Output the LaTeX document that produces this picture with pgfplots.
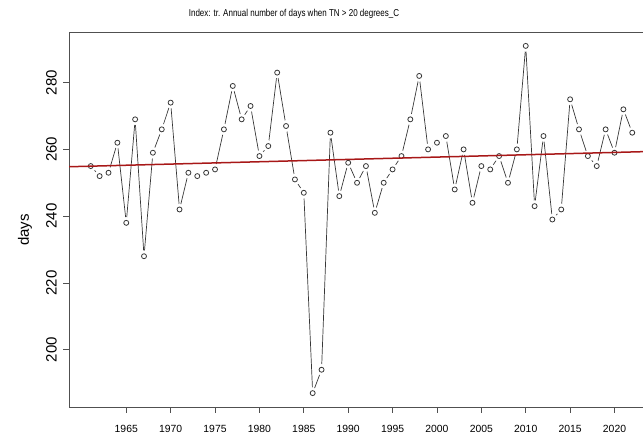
\documentclass[border=0pt]{standalone}
\usepackage{fontspec}
\setmainfont{Liberation Sans}
\usepackage{pgfplots}
\pgfplotsset{compat=1.18}
\usepackage{pgfplotstable}
\definecolor{trendred}{RGB}{168,24,24}
\definecolor{framegray}{RGB}{80,80,80}
\definecolor{pointgray}{RGB}{55,55,55}

% Annual count of tropical nights (TN > 20 C)
\pgfplotstableread{
year days
1961 255
1962 252
1963 253
1964 262
1965 238
1966 269
1967 228
1968 259
1969 266
1970 274
1971 242
1972 253
1973 252
1974 253
1975 254
1976 266
1977 279
1978 269
1979 273
1980 258
1981 261
1982 283
1983 267
1984 251
1985 247
1986 187
1987 194
1988 265
1989 246
1990 256
1991 250
1992 255
1993 241
1994 250
1995 254
1996 258
1997 269
1998 282
1999 260
2000 262
2001 264
2002 248
2003 260
2004 244
2005 255
2006 254
2007 258
2008 250
2009 260
2010 291
2011 243
2012 264
2013 239
2014 242
2015 275
2016 266
2017 258
2018 255
2019 266
2020 259
2021 272
2022 265
}\trdata

\begin{document}
\begin{tikzpicture}[x=1pt,y=1pt]
\begin{axis}[
  at={(69pt,35pt)}, anchor=south west,
  scale only axis, width=585pt, height=375pt,
  xmin=1958.55, xmax=2024.45, ymin=182.84, ymax=295.16,
  axis line style={framegray, line width=0.8pt},
  tick style={framegray, line width=0.8pt},
  tick align=outside, tick pos=left,
  major tick length=6pt,
  xtick={1965,1970,...,2020},
  ytick={200,220,...,280},
  /pgf/number format/assume math mode=true,
  /pgf/number format/1000 sep={},
  xticklabel style={font=\fontsize{10.4}{12}\selectfont, anchor=north, inner sep=0pt, yshift=-12pt},
  yticklabel={\rotatebox{90}{\pgfmathprintnumber[assume math mode=true]{\tick}}},
  yticklabel style={font=\fontsize{15}{17}\selectfont, anchor=east, inner sep=0pt, xshift=-6pt},
  clip=true, clip marker paths=true,
]
  % connecting line
  \addplot[pointgray, line width=0.7pt, no markers] table[x=year,y=days] {\trdata};
  % gaps around the points (type "b" look)
  \addplot[white, only marks, mark=*, mark size=5.6pt] table[x=year,y=days] {\trdata};
  % open circles
  \addplot[pointgray, only marks, mark=o, mark size=2.5pt, mark options={line width=0.8pt}] table[x=year,y=days] {\trdata};
  % linear trend
  \addplot[trendred, line width=1.5pt, no markers] coordinates {(1958.55,254.8) (2024.45,259.4)};
\end{axis}
\node[font=\fontsize{10}{12}\selectfont, xscale=0.8] at (294,428) {Index: tr. Annual number of days when TN > 20 degrees\_C};
\node[font=\fontsize{15}{17}\selectfont, rotate=90] at (25,212) {days};
\pgfresetboundingbox
\path[use as bounding box] (0,0) rectangle (643,442);
\end{tikzpicture}
\end{document}
